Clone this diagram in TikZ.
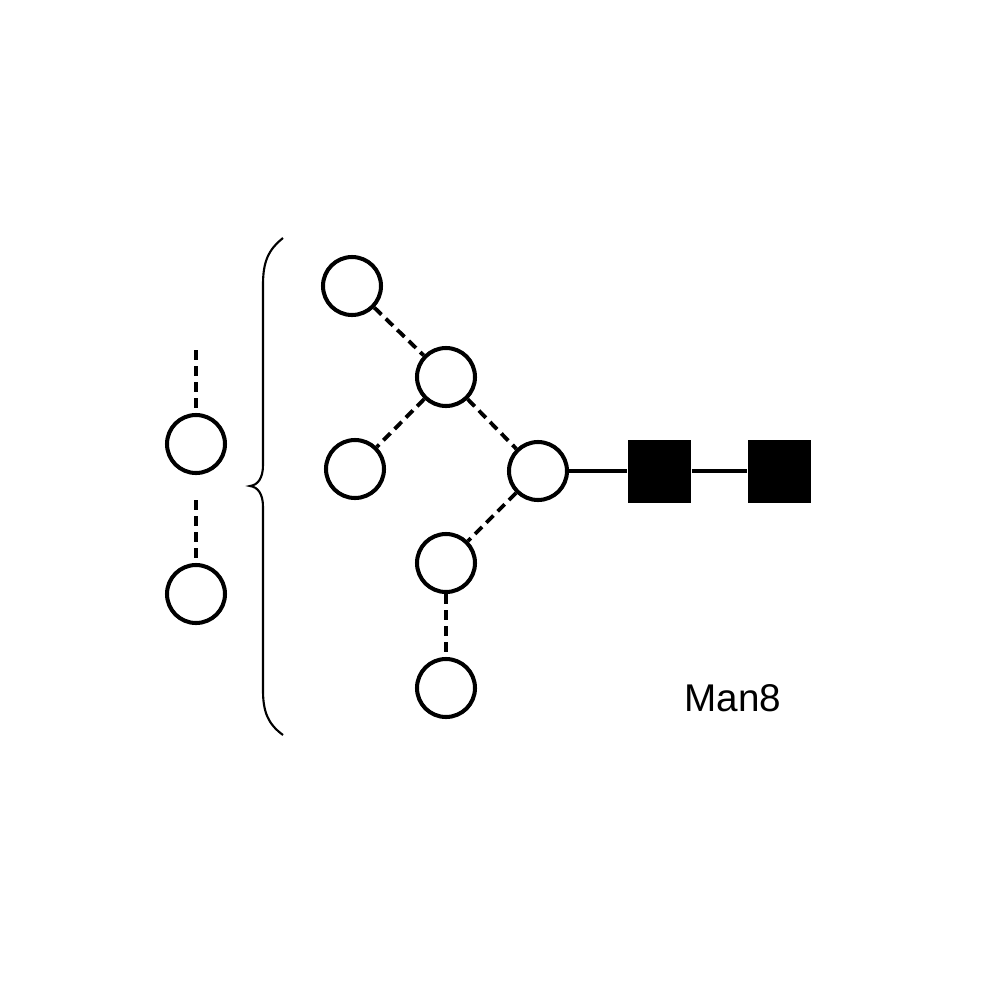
\documentclass[tikz,border=0pt]{standalone}
\usepackage{fontspec}
\setmainfont{Liberation Sans}
\begin{document}
\begin{tikzpicture}[x=0.1mm,y=-0.1mm,
  man/.style={circle,draw,line width=1.15pt,minimum size=5.8mm,inner sep=0pt,fill=white},
  glc/.style={rectangle,fill=black,minimum size=6.3mm,inner sep=0pt},
  dlink/.style={line width=1.1pt,dash pattern=on 1mm off 0.6mm},
  slink/.style={line width=0.9pt},
  bracestyle/.style={line width=0.6pt}]
\useasboundingbox[fill=white] (0,0) rectangle (1000,1000);
% left column
\node[man] (L1) at (196,444) {};
\node[man] (L2) at (196,594) {};
\coordinate (Ltop) at (196,350);
\coordinate (Lmid) at (196,500);
\draw[dlink] (Ltop) -- (L1);
\draw[dlink] (Lmid) -- (L2);
% brace
\draw[bracestyle] (283,238) .. controls (268,250) and (263,262) .. (263,285) -- (263,465)
  .. controls (263,478) and (258,485) .. (250,486)
  .. controls (258,487) and (263,494) .. (263,507) -- (263,690)
  .. controls (263,712) and (268,724) .. (283,735);
% tree
\node[man] (A) at (352,286) {};
\node[man] (B) at (446,377) {};
\node[man] (C) at (355,469) {};
\node[man] (D) at (538,471) {};
\node[man] (E) at (446,563) {};
\node[man] (F) at (446,688) {};
\node[glc] (G1) at (659.5,471) {};
\node[glc] (G2) at (779,471) {};
\draw[dlink] (A) -- (B);
\draw[dlink] (B) -- (C);
\draw[dlink] (B) -- (D);
\draw[dlink] (D) -- (E);
\draw[dlink] (E) -- (F);
\draw[slink] (D) -- (G1);
\draw[slink] (G1) -- (G2);
\node[font=\fontsize{11pt}{13pt}\selectfont] (lbl) at (733,698) {Man8};
\end{tikzpicture}
\end{document}
